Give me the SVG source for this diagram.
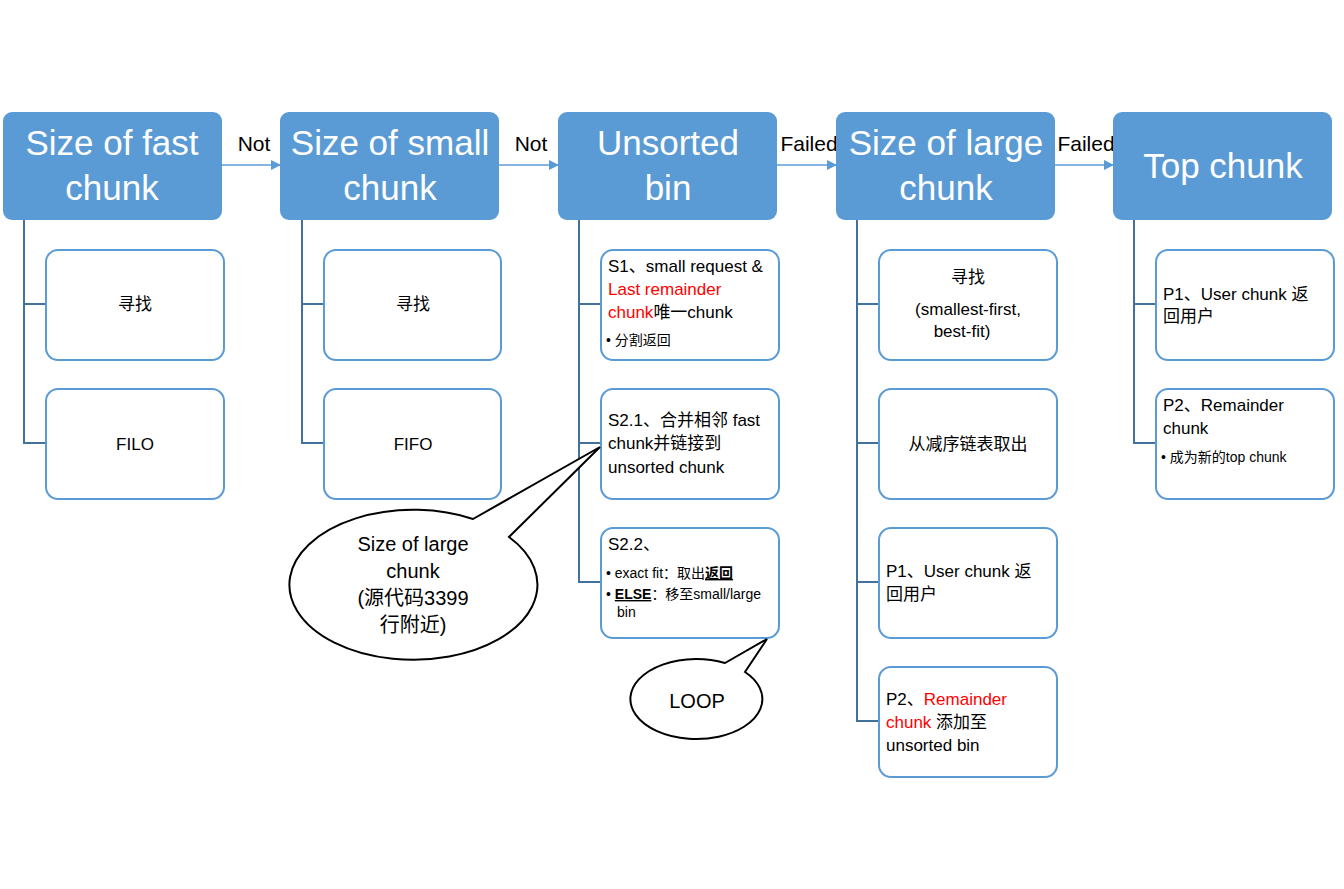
<svg xmlns="http://www.w3.org/2000/svg" width="1344" height="889" viewBox="0 0 1344 889">
<style>
text{font-family:"Liberation Sans","Noto Sans CJK SC",sans-serif;fill:#000}
.hd rect{fill:#5B9BD5}
.hd text{fill:#fff;font-size:35px;text-anchor:middle}
.ch rect{fill:#fff;stroke:#5B9BD5;stroke-width:2}
.ch text{font-size:17px}
.c{text-anchor:middle}
.ch .sm{font-size:14px}
.red{fill:#FF0000}
.lbl{font-size:21px;text-anchor:middle}
.tree{fill:none;stroke:#41719C;stroke-width:2}
.arr{stroke:#5B9BD5;stroke-width:1.5;fill:none}
.call{fill:#fff;stroke:#000;stroke-width:2}
.ct{font-size:20px;text-anchor:middle}
</style>
<defs>
<marker id="ah" markerWidth="10" markerHeight="10" refX="9" refY="5" orient="auto" markerUnits="userSpaceOnUse">
<path d="M0,0 L10,5 L0,10 Z" fill="#5B9BD5"/>
</marker>
</defs>

<g id="connectors">
<line class="arr" x1="222" y1="165" x2="280" y2="165" marker-end="url(#ah)"/>
<line class="arr" x1="499" y1="165" x2="558" y2="165" marker-end="url(#ah)"/>
<line class="arr" x1="777" y1="165" x2="836" y2="165" marker-end="url(#ah)"/>
<line class="arr" x1="1055" y1="165" x2="1113" y2="165" marker-end="url(#ah)"/>
<text class="lbl" x="254" y="151">Not</text>
<text class="lbl" x="531" y="151">Not</text>
<text class="lbl" x="809" y="151">Failed</text>
<text class="lbl" x="1086" y="151">Failed</text>
<path class="tree" d="M24,220 V443 H46 M24,304 H46"/>
<path class="tree" d="M302,220 V443 H324 M302,304 H324"/>
<path class="tree" d="M579,220 V582 H601 M579,304 H601 M579,443 H601"/>
<path class="tree" d="M857,220 V721 H879 M857,304 H879 M857,443 H879 M857,582 H879"/>
<path class="tree" d="M1134,220 V443 H1156 M1134,304 H1156"/>
</g>

<g id="n-fast" class="hd">
<rect x="3" y="112" width="219" height="108" rx="9"/>
<text x="112" y="155">Size of fast</text>
<text x="112" y="200">chunk</text>
</g>
<g id="n-small" class="hd">
<rect x="280" y="112" width="219" height="108" rx="9"/>
<text x="390" y="155">Size of small</text>
<text x="390" y="200">chunk</text>
</g>
<g id="n-unsorted" class="hd">
<rect x="558" y="112" width="219" height="108" rx="9"/>
<text x="668" y="155">Unsorted</text>
<text x="668" y="200">bin</text>
</g>
<g id="n-large" class="hd">
<rect x="836" y="112" width="219" height="108" rx="9"/>
<text x="946" y="155">Size of large</text>
<text x="946" y="200">chunk</text>
</g>
<g id="n-top" class="hd">
<rect x="1113" y="112" width="219" height="108" rx="9"/>
<text x="1223" y="178">Top chunk</text>
</g>

<g id="n-fast-find" class="ch">
<rect x="46" y="250" width="178" height="110" rx="12"/>
<text class="c" x="135" y="310">寻找</text>
</g>
<g id="n-fast-filo" class="ch">
<rect x="46" y="389" width="178" height="110" rx="12"/>
<text class="c" x="135" y="450">FILO</text>
</g>
<g id="n-small-find" class="ch">
<rect x="324" y="250" width="177" height="110" rx="12"/>
<text class="c" x="413" y="310">寻找</text>
</g>
<g id="n-small-fifo" class="ch">
<rect x="324" y="389" width="177" height="110" rx="12"/>
<text class="c" x="413" y="450">FIFO</text>
</g>

<g id="n-s1" class="ch">
<rect x="601" y="250" width="178" height="110" rx="12"/>
<text x="608" y="272">S1、small request &amp;</text>
<text x="608" y="295" class="red">Last remainder</text>
<text x="608" y="318"><tspan class="red">chunk</tspan>唯一chunk</text>
<text x="606" y="345" class="sm">• 分割返回</text>
</g>
<g id="n-s21" class="ch">
<rect x="601" y="389" width="178" height="110" rx="12"/>
<text x="608" y="426">S2.1、合并相邻 fast</text>
<text x="608" y="449">chunk并链接到</text>
<text x="608" y="473">unsorted chunk</text>
</g>
<g id="n-s22" class="ch">
<rect x="601" y="528" width="178" height="110" rx="12"/>
<text x="608" y="550">S2.2、</text>
<text x="606" y="578" class="sm">• exact fit：取出<tspan font-weight="bold" text-decoration="underline">返回</tspan></text>
<text x="606" y="599" class="sm">• <tspan font-weight="bold" text-decoration="underline">ELSE</tspan>：移至small/large</text>
<text x="617" y="617" class="sm">bin</text>
</g>

<g id="n-large-find" class="ch">
<rect x="879" y="250" width="178" height="110" rx="12"/>
<text class="c" x="968" y="283">寻找</text>
<text class="c" x="968" y="315">(smallest-first,</text>
<text class="c" x="962" y="337">best-fit)</text>
</g>
<g id="n-large-take" class="ch">
<rect x="879" y="389" width="178" height="110" rx="12"/>
<text class="c" x="968" y="450">从减序链表取出</text>
</g>
<g id="n-large-p1" class="ch">
<rect x="879" y="528" width="178" height="110" rx="12"/>
<text x="886" y="577">P1、User chunk 返</text>
<text x="886" y="600">回用户</text>
</g>
<g id="n-large-p2" class="ch">
<rect x="879" y="667" width="178" height="110" rx="12"/>
<text x="886" y="705">P2、<tspan class="red">Remainder</tspan></text>
<text x="886" y="728"><tspan class="red">chunk</tspan> 添加至</text>
<text x="886" y="751">unsorted bin</text>
</g>

<g id="n-top-p1" class="ch">
<rect x="1156" y="250" width="178" height="110" rx="12"/>
<text x="1163" y="300">P1、User chunk 返</text>
<text x="1163" y="322">回用户</text>
</g>
<g id="n-top-p2" class="ch">
<rect x="1156" y="389" width="178" height="110" rx="12"/>
<text x="1163" y="411">P2、Remainder</text>
<text x="1163" y="434">chunk</text>
<text x="1161" y="462" class="sm">• 成为新的top chunk</text>
</g>

<g id="callout-large">
<path class="call" d="M473,519 A124,75 0 1 0 509,537 L600,447 Z"/>
<text class="ct" x="413" y="551">Size of large</text>
<text class="ct" x="413" y="578">chunk</text>
<text class="ct" x="413" y="605">(源代码3399</text>
<text class="ct" x="413" y="632">行附近)</text>
</g>
<g id="callout-loop">
<path class="call" d="M725,663 A66,40 0 1 0 745,672 L767,639 Z"/>
<text class="ct" x="697" y="708" font-size="22">LOOP</text>
</g>
</svg>
